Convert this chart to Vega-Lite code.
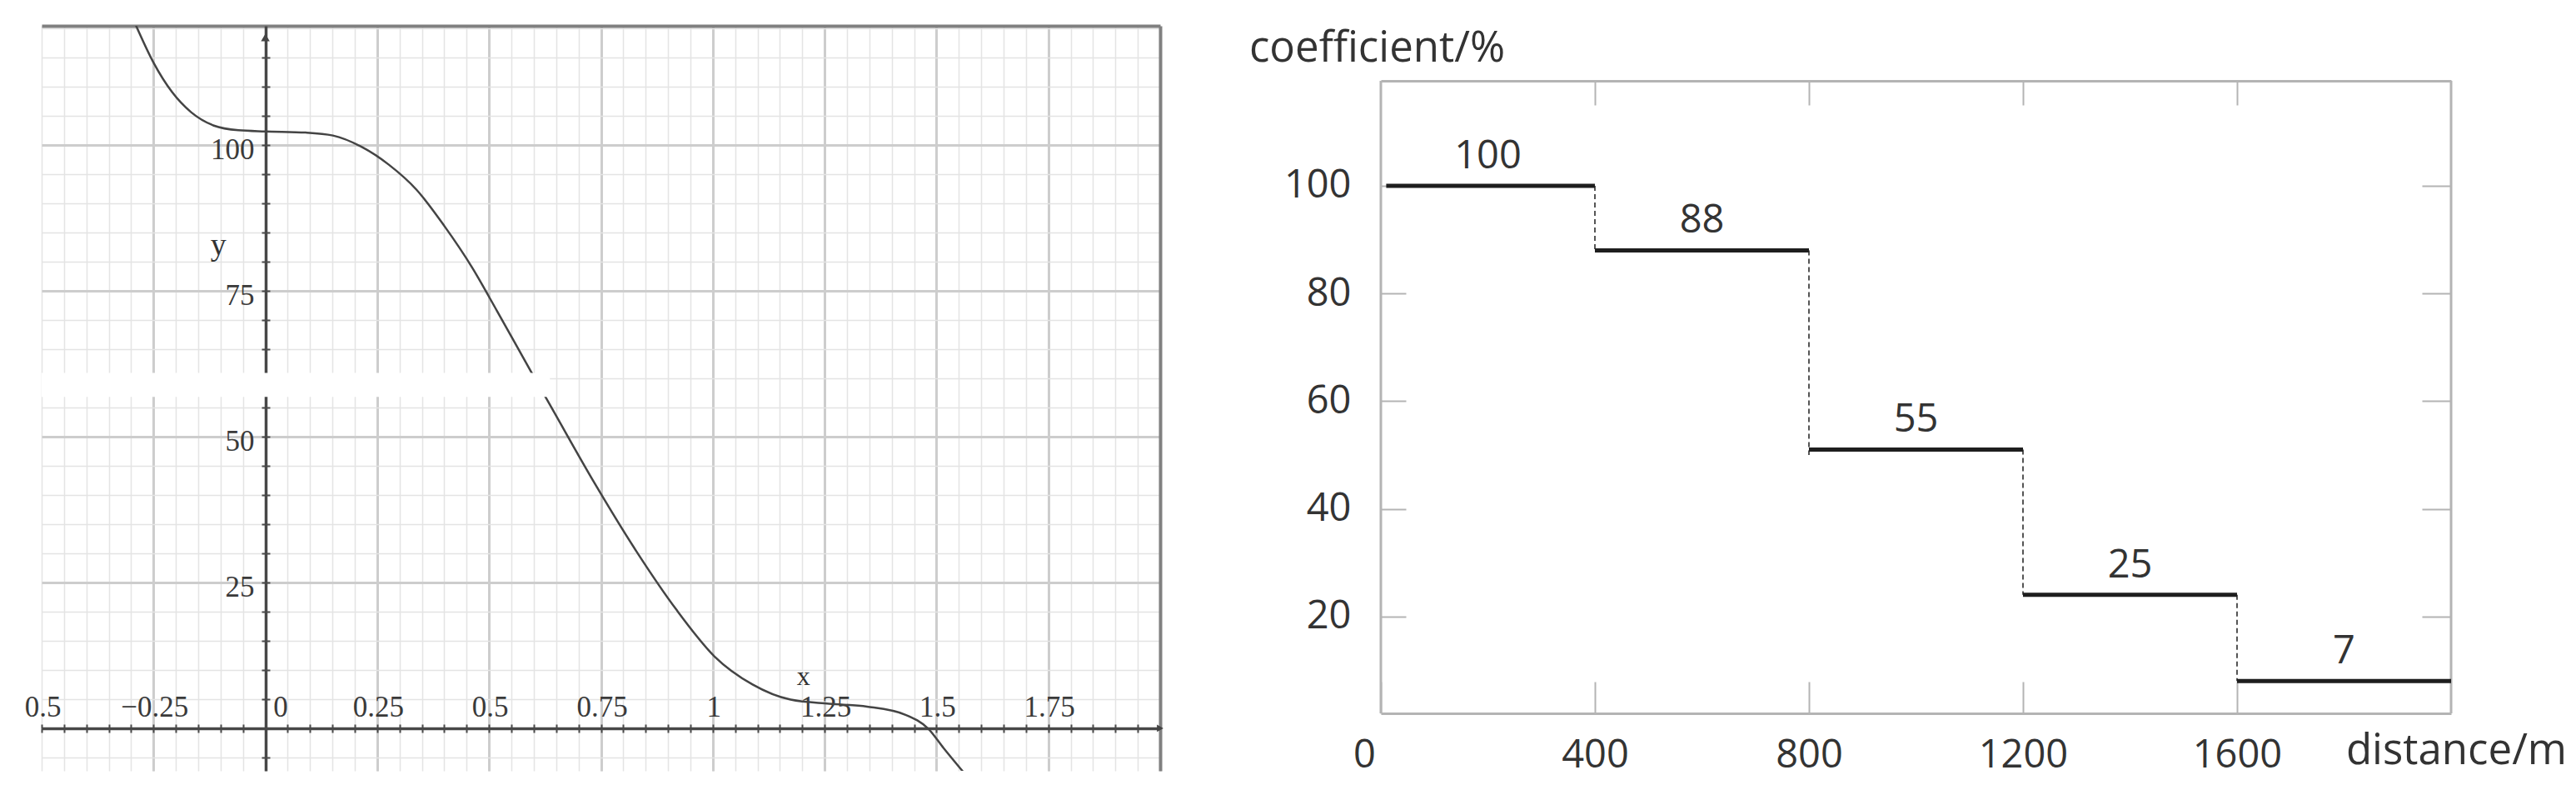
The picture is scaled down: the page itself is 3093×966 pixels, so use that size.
{
  "$schema": "https://vega.github.io/schema/vega-lite/v6.json",
  "background": "white",
  "padding": {"left": 29, "top": 31, "right": 5, "bottom": 5},
  "spacing": 102,
  "config": {"view": {"stroke": null}},
  "datasets": {
    "curve": [
      {"x": -0.29, "y": 120.6},
      {"x": -0.25, "y": 114.1},
      {"x": -0.208, "y": 109.0},
      {"x": -0.166, "y": 105.6},
      {"x": -0.115, "y": 103.3},
      {"x": -0.06, "y": 102.5},
      {"x": 0, "y": 102.3},
      {"x": 0.09, "y": 102.1},
      {"x": 0.151, "y": 101.6},
      {"x": 0.214, "y": 99.7},
      {"x": 0.276, "y": 96.6},
      {"x": 0.338, "y": 92.3},
      {"x": 0.4, "y": 86.1},
      {"x": 0.462, "y": 79.0},
      {"x": 0.518, "y": 71.5},
      {"x": 0.594, "y": 61.1},
      {"x": 0.632, "y": 56.0},
      {"x": 0.736, "y": 42.0},
      {"x": 0.833, "y": 29.9},
      {"x": 0.918, "y": 20.4},
      {"x": 1.004, "y": 12.3},
      {"x": 1.089, "y": 7.5},
      {"x": 1.174, "y": 4.9},
      {"x": 1.26, "y": 4.2},
      {"x": 1.345, "y": 3.7},
      {"x": 1.431, "y": 2.3},
      {"x": 1.482, "y": -0.1},
      {"x": 1.516, "y": -3.4},
      {"x": 1.559, "y": -7.4}
    ],
    "steps": [
      {"start": 10, "end": 400, "mid": 200, "level": 100, "label": "100"},
      {"start": 400, "end": 800, "mid": 600, "level": 88, "label": "88"},
      {"start": 800, "end": 1200, "mid": 1000, "level": 51, "label": "55"},
      {"start": 1200, "end": 1600, "mid": 1400, "level": 24, "label": "25"},
      {"start": 1600, "end": 2000, "mid": 1800, "level": 8, "label": "7"}
    ],
    "drops": [
      {"at": 400, "from": 100, "to": 88},
      {"at": 800, "from": 88, "to": 50},
      {"at": 1200, "from": 51, "to": 24},
      {"at": 1600, "from": 24, "to": 8}
    ]
  },
  "hconcat": [
    {
      "width": 1343,
      "height": 894,
      "resolve": {"axis": {"x": "independent", "y": "independent"}},
      "layer": [
        {
          "data": {"name": "curve"},
          "mark": {"type": "line", "interpolate": "monotone", "clip": true, "color": "#444444", "strokeWidth": 2.5},
          "encoding": {
            "x": {
              "field": "x", "type": "quantitative",
              "scale": {"domain": [-0.5, 2.0], "zero": false, "nice": false},
              "axis": {
                "orient": "bottom", "title": null, "labels": false, "ticks": false, "domain": false,
                "grid": true, "gridColor": "#e4e4e4", "gridWidth": 1.5,
                "values": [-0.5,-0.45,-0.4,-0.35,-0.3,-0.25,-0.2,-0.15,-0.1,-0.05,0,0.05,0.1,0.15,0.2,0.25,0.3,0.35,0.4,0.45,0.5,0.55,0.6,0.65,0.7,0.75,0.8,0.85,0.9,0.95,1,1.05,1.1,1.15,1.2,1.25,1.3,1.35,1.4,1.45,1.5,1.55,1.6,1.65,1.7,1.75,1.8,1.85,1.9,1.95,2]
              }
            },
            "y": {
              "field": "y", "type": "quantitative",
              "scale": {"domain": [-7.3, 120.4], "zero": false, "nice": false},
              "axis": {
                "orient": "left", "title": null, "labels": false, "ticks": false, "domain": false,
                "grid": true, "gridColor": "#e4e4e4", "gridWidth": 1.5,
                "values": [-5,0,5,10,15,20,25,30,35,40,45,50,55,60,65,70,75,80,85,90,95,100,105,110,115,120]
              }
            }
          }
        },
        {
          "data": {"values": [{}]},
          "mark": {"type": "rect", "color": "white"},
          "encoding": {
            "x": {
              "datum": -0.5, "type": "quantitative",
              "axis": {
                "orient": "top", "title": null, "labels": false, "ticks": false,
                "domain": true, "domainColor": "#808080", "domainWidth": 4,
                "grid": true, "gridColor": "#cdcdcd", "gridWidth": 3,
                "values": [-0.25, 0.25, 0.5, 0.75, 1, 1.25, 1.5, 1.75]
              }
            },
            "x2": {"datum": 0.636},
            "y": {
              "datum": 56.8, "type": "quantitative",
              "axis": {
                "orient": "right", "title": null, "labels": false, "ticks": false,
                "domain": true, "domainColor": "#808080", "domainWidth": 4,
                "grid": true, "gridColor": "#cdcdcd", "gridWidth": 3,
                "values": [25, 50, 75, 100]
              }
            },
            "y2": {"datum": 60.9}
          }
        },
        {
          "data": {"values": [{}]},
          "mark": {"type": "point", "shape": "triangle-up", "filled": true, "color": "#444444", "size": 110, "opacity": 1},
          "encoding": {
            "x": {
              "datum": 0, "type": "quantitative",
              "axis": {
                "orient": "top", "offset": -843, "title": null,
                "domain": true, "domainColor": "#474747", "domainWidth": 3.5,
                "ticks": true, "tickSize": 5, "tickWidth": 2, "tickColor": "#4a4a4a",
                "grid": false, "labelFlush": false, "labelOverlap": false, "labelBound": false,
                "labelFont": "Liberation Serif", "labelFontSize": 35, "labelColor": "#3a3a3a",
                "labelPadding": 3,
                "labelOffset": {"condition": {"test": "datum.value == 0", "value": 18}, "value": 1},
                "labelExpr": "datum.value == -0.5 ? '0.5' : (abs(datum.value * 4 - round(datum.value * 4)) < 0.001 && datum.value < 1.9 ? format(datum.value, '~g') : '')",
                "values": [-0.5,-0.45,-0.4,-0.35,-0.3,-0.25,-0.2,-0.15,-0.1,-0.05,0,0.05,0.1,0.15,0.2,0.25,0.3,0.35,0.4,0.45,0.5,0.55,0.6,0.65,0.7,0.75,0.8,0.85,0.9,0.95,1,1.05,1.1,1.15,1.2,1.25,1.3,1.35,1.4,1.45,1.5,1.55,1.6,1.65,1.7,1.75,1.8,1.85,1.9,1.95,2]
              }
            },
            "y": {
              "datum": 118.4, "type": "quantitative",
              "axis": {
                "orient": "left", "offset": -269, "title": null,
                "domain": true, "domainColor": "#474747", "domainWidth": 3.5,
                "ticks": true, "tickSize": 5, "tickWidth": 2, "tickColor": "#4a4a4a",
                "grid": false, "labelOverlap": false,
                "labelFont": "Liberation Serif", "labelFontSize": 35, "labelColor": "#3a3a3a",
                "labelPadding": 9, "labelOffset": 6,
                "labelExpr": "datum.value > 0 && datum.value % 25 == 0 ? format(datum.value, 'd') : ''",
                "values": [-5,0,5,10,15,20,25,30,35,40,45,50,55,60,65,70,75,80,85,90,95,100,105,110,115]
              }
            }
          }
        },
        {
          "data": {"values": [{}]},
          "mark": {"type": "point", "shape": "triangle-right", "filled": true, "color": "#444444", "size": 80, "opacity": 1},
          "encoding": {
            "x": {
              "datum": 2.0, "type": "quantitative",
              "axis": {
                "orient": "bottom", "offset": -51, "title": null, "labels": false, "domain": false, "grid": false,
                "ticks": true, "tickSize": 5, "tickWidth": 2, "tickColor": "#4a4a4a",
                "values": [-0.5,-0.45,-0.4,-0.35,-0.3,-0.25,-0.2,-0.15,-0.1,-0.05,0,0.05,0.1,0.15,0.2,0.25,0.3,0.35,0.4,0.45,0.5,0.55,0.6,0.65,0.7,0.75,0.8,0.85,0.9,0.95,1,1.05,1.1,1.15,1.2,1.25,1.3,1.35,1.4,1.45,1.5,1.55,1.6,1.65,1.7,1.75,1.8,1.85,1.9,1.95]
              }
            },
            "y": {
              "datum": 0, "type": "quantitative",
              "axis": {
                "orient": "right", "offset": -1074, "title": null, "labels": false, "domain": false, "grid": false,
                "ticks": true, "tickSize": 5, "tickWidth": 2, "tickColor": "#4a4a4a",
                "values": [-5,0,5,10,15,20,25,30,35,40,45,50,55,60,65,70,75,80,85,90,95,100,105,110,115]
              }
            }
          }
        },
        {
          "data": {"values": [{}]},
          "mark": {"type": "text", "text": "y", "font": "Liberation Serif", "fontSize": 38, "color": "#333333", "baseline": "middle", "align": "center"},
          "encoding": {
            "x": {"datum": -0.105, "type": "quantitative", "axis": null},
            "y": {"datum": 82.7, "type": "quantitative", "axis": null}
          }
        },
        {
          "data": {"values": [{}]},
          "mark": {"type": "text", "text": "x", "font": "Liberation Serif", "fontSize": 32, "color": "#333333", "baseline": "middle", "align": "center"},
          "encoding": {
            "x": {"datum": 1.203, "type": "quantitative", "axis": null},
            "y": {"datum": 8.8, "type": "quantitative", "axis": null}
          }
        }
      ]
    },
    {
      "width": 1285,
      "height": 825,
      "resolve": {"axis": {"x": "independent", "y": "independent"}},
      "layer": [
        {
          "data": {"values": [{}]},
          "mark": {"type": "rule", "color": "#b4b4b4", "strokeWidth": 3},
          "encoding": {
            "x": {"datum": 0, "type": "quantitative", "scale": {"domain": [0, 2000], "zero": false, "nice": false}, "axis": null},
            "y": {"datum": 2, "type": "quantitative", "scale": {"domain": [2, 129.7], "zero": false, "nice": false}, "axis": null},
            "y2": {"datum": 119.5}
          }
        },
        {
          "data": {"values": [{}]},
          "mark": {"type": "rule", "color": "#b4b4b4", "strokeWidth": 3},
          "encoding": {
            "x": {"datum": 2000, "type": "quantitative", "axis": null},
            "y": {"datum": 2, "type": "quantitative", "axis": null},
            "y2": {"datum": 119.5}
          }
        },
        {
          "data": {"name": "drops"},
          "mark": {"type": "rule", "color": "#555555", "strokeWidth": 2, "strokeDash": [6, 4]},
          "encoding": {
            "x": {
              "field": "at", "type": "quantitative",
              "axis": {
                "orient": "top", "offset": -66, "title": null, "labels": false, "grid": false,
                "domain": true, "domainColor": "#b4b4b4", "domainWidth": 3,
                "ticks": true, "tickSize": -29, "tickWidth": 2, "tickColor": "#b4b4b4",
                "values": [400, 800, 1200, 1600]
              }
            },
            "y": {
              "field": "from", "type": "quantitative",
              "axis": {
                "orient": "right", "title": null, "labels": false, "grid": false,
                "domain": false,
                "ticks": true, "tickSize": -35, "tickWidth": 2, "tickColor": "#b4b4b4",
                "values": [20, 40, 60, 80, 100]
              }
            },
            "y2": {"field": "to"}
          }
        },
        {
          "data": {"name": "steps"},
          "mark": {"type": "rule", "color": "#1e1e1e", "strokeWidth": 5},
          "encoding": {
            "x": {
              "field": "start", "type": "quantitative",
              "axis": {
                "orient": "bottom", "grid": false, "format": "d",
                "domain": true, "domainColor": "#b4b4b4", "domainWidth": 3,
                "ticks": true, "tickSize": -38, "tickWidth": 2, "tickColor": "#b4b4b4",
                "values": [0, 400, 800, 1200, 1600],
                "labelFlush": false, "labelOverlap": false,
                "labelFont": "Open Sans", "labelFontSize": 47, "labelColor": "#333333",
                "labelPadding": 65,
                "labelOffset": {"condition": {"test": "datum.value == 0", "value": -20}, "value": 0},
                "title": "distance/m", "titleFont": "Open Sans", "titleFontSize": 51, "titleFontWeight": "normal",
                "titleColor": "#333333", "titleAngle": 0, "titleAlign": "center", "titleBaseline": "middle",
                "titleX": 1291, "titleY": 45
              }
            },
            "x2": {"field": "end"},
            "y": {
              "field": "level", "type": "quantitative",
              "axis": {
                "orient": "left", "grid": false,
                "domain": false,
                "ticks": true, "tickSize": -30, "tickWidth": 2, "tickColor": "#b4b4b4",
                "values": [20, 40, 60, 80, 100],
                "labelOverlap": false,
                "labelFont": "Open Sans", "labelFontSize": 47, "labelColor": "#333333",
                "labelPadding": 66,
                "title": "coefficient/%", "titleFont": "Open Sans", "titleFontSize": 51, "titleFontWeight": "normal",
                "titleColor": "#333333", "titleAngle": 0, "titleAlign": "center", "titleBaseline": "middle",
                "titleX": -5, "titleY": 27
              }
            }
          }
        },
        {
          "data": {"name": "steps"},
          "mark": {"type": "text", "font": "Open Sans", "fontSize": 47, "color": "#333333", "baseline": "middle", "align": "center", "dy": -35},
          "encoding": {
            "x": {"field": "mid", "type": "quantitative", "axis": null},
            "y": {"field": "level", "type": "quantitative", "axis": null},
            "text": {"field": "label", "type": "nominal"}
          }
        }
      ]
    }
  ]
}
